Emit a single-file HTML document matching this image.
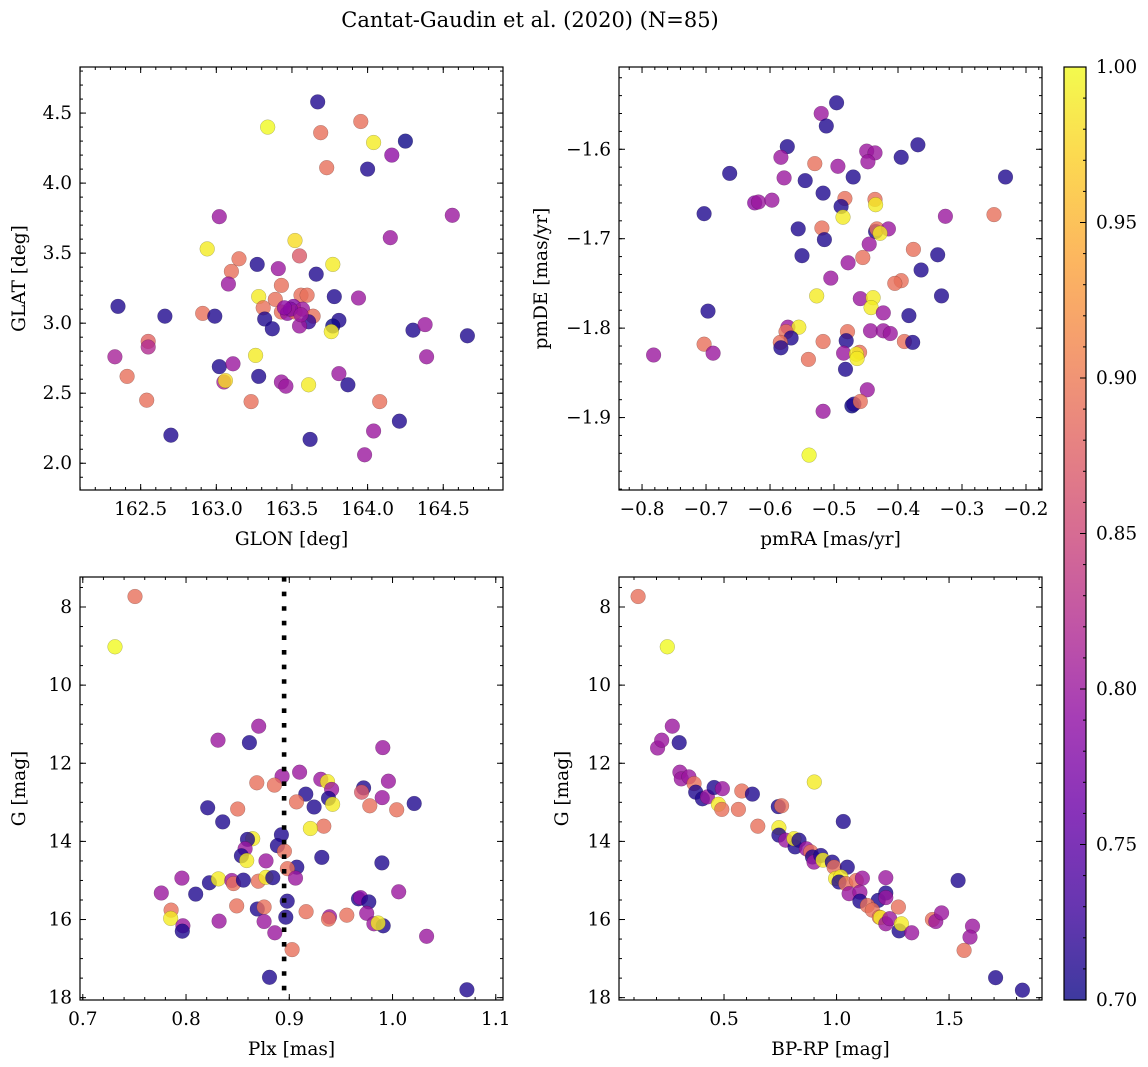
<!DOCTYPE html>
<html>
<head>
<meta charset="utf-8">
<style>
html,body{margin:0;padding:0;background:#fff;}
svg{display:block;font-family:"DejaVu Serif","Liberation Serif",serif;}
</style>
</head>
<body>
<svg id="fig" width="1148" height="1067" viewBox="0 0 1148 1067" xmlns="http://www.w3.org/2000/svg">
<rect width="1148" height="1067" fill="#fff"/>
<text x="530" y="27" font-size="21" text-anchor="middle">Cantat-Gaudin et al. (2020) (N=85)</text>
<defs>
<linearGradient id="cbgrad" x1="0" y1="1" x2="0" y2="0">
<stop offset="0" stop-color="#0d0887"/><stop offset="0.1" stop-color="#41049d"/><stop offset="0.2" stop-color="#6a00a8"/><stop offset="0.3" stop-color="#8f0da4"/><stop offset="0.4" stop-color="#b12a90"/><stop offset="0.5" stop-color="#cc4778"/><stop offset="0.6" stop-color="#e16462"/><stop offset="0.7" stop-color="#f2844b"/><stop offset="0.8" stop-color="#fca636"/><stop offset="0.9" stop-color="#fcce25"/><stop offset="1" stop-color="#f0f921"/>
</linearGradient>
</defs>
</svg>
<script>
// ---------- Panel 1: GLON / GLAT ----------
const glonVals=[163.67,163.34,163.69,163.955,164.04,164.25,164.16,163.73,164.00,163.02,164.56,164.15,163.52,162.94,163.55,163.15,163.27,163.77,163.41,163.10,163.66,163.08,163.43,163.28,163.39,163.56,163.60,163.78,163.94,162.35,163.31,163.51,163.43,163.47,163.52,163.57,163.64,162.66,162.91,162.99,163.32,163.61,163.55,163.81,163.37,163.77,163.76,164.30,164.38,164.66,162.55,162.55,162.33,164.39,163.26,163.02,163.11,162.41,163.28,163.05,163.06,163.43,163.46,163.61,163.81,163.87,162.54,163.23,164.08,164.21,164.04,162.70,163.62,163.98,163.49,163.56,163.45];
const glatVals=[4.58,4.40,4.36,4.44,4.29,4.30,4.20,4.11,4.10,3.76,3.77,3.61,3.59,3.53,3.48,3.46,3.42,3.42,3.39,3.37,3.35,3.28,3.27,3.19,3.17,3.20,3.20,3.19,3.18,3.12,3.11,3.12,3.08,3.07,3.08,3.10,3.05,3.05,3.07,3.05,3.03,3.01,2.98,3.02,2.96,2.98,2.94,2.95,2.99,2.91,2.87,2.83,2.76,2.76,2.77,2.69,2.71,2.62,2.62,2.58,2.59,2.58,2.55,2.56,2.64,2.56,2.45,2.44,2.44,2.30,2.23,2.20,2.17,2.06,3.10,3.06,3.11];
const probP1=[0.71,1.0,0.89,0.89,0.99,0.70,0.79,0.89,0.71,0.80,0.80,0.80,0.98,0.99,0.87,0.89,0.71,0.99,0.80,0.89,0.71,0.80,0.89,0.99,0.89,0.89,0.89,0.71,0.80,0.71,0.89,0.78,0.89,0.79,0.89,0.80,0.89,0.71,0.89,0.71,0.71,0.72,0.80,0.71,0.71,0.70,0.99,0.71,0.80,0.71,0.88,0.82,0.81,0.80,0.99,0.71,0.80,0.89,0.71,0.81,0.98,0.80,0.80,0.99,0.80,0.71,0.89,0.89,0.89,0.71,0.80,0.71,0.71,0.80,0.78,0.80,0.79];
// ---------- Panel 2: pmRA / pmDE ----------
const pmraVals=[-0.496,-0.520,-0.512,-0.573,-0.583,-0.369,-0.395,-0.449,-0.436,-0.447,-0.530,-0.494,-0.663,-0.578,-0.470,-0.545,-0.232,-0.517,-0.624,-0.618,-0.597,-0.483,-0.489,-0.436,-0.435,-0.703,-0.486,-0.326,-0.250,-0.556,-0.519,-0.515,-0.435,-0.433,-0.415,-0.428,-0.445,-0.550,-0.376,-0.338,-0.455,-0.478,-0.364,-0.505,-0.395,-0.405,-0.527,-0.332,-0.459,-0.439,-0.442,-0.423,-0.697,-0.383,-0.572,-0.555,-0.575,-0.567,-0.479,-0.443,-0.423,-0.412,-0.584,-0.583,-0.517,-0.481,-0.390,-0.377,-0.703,-0.689,-0.782,-0.485,-0.460,-0.465,-0.464,-0.540,-0.482,-0.448,-0.472,-0.469,-0.459,-0.517,-0.539];
const pmdeVals=[-1.548,-1.560,-1.574,-1.597,-1.609,-1.595,-1.609,-1.602,-1.604,-1.614,-1.616,-1.619,-1.627,-1.632,-1.631,-1.635,-1.631,-1.649,-1.660,-1.659,-1.657,-1.655,-1.664,-1.656,-1.662,-1.672,-1.676,-1.675,-1.673,-1.689,-1.688,-1.701,-1.692,-1.689,-1.689,-1.694,-1.706,-1.719,-1.712,-1.718,-1.721,-1.727,-1.735,-1.744,-1.747,-1.750,-1.764,-1.764,-1.767,-1.766,-1.777,-1.783,-1.781,-1.786,-1.799,-1.799,-1.804,-1.811,-1.804,-1.803,-1.803,-1.806,-1.816,-1.822,-1.815,-1.814,-1.815,-1.816,-1.818,-1.828,-1.830,-1.828,-1.827,-1.829,-1.834,-1.835,-1.846,-1.869,-1.887,-1.885,-1.882,-1.893,-1.942];
const probP2=[0.71,0.80,0.71,0.71,0.80,0.71,0.71,0.80,0.80,0.80,0.89,0.80,0.71,0.80,0.71,0.71,0.71,0.71,0.79,0.80,0.80,0.89,0.71,0.89,0.99,0.71,0.99,0.80,0.89,0.71,0.89,0.71,0.71,0.89,0.80,0.99,0.80,0.71,0.89,0.71,0.89,0.80,0.71,0.80,0.89,0.89,0.99,0.71,0.80,0.99,0.99,0.80,0.71,0.71,0.80,0.99,0.89,0.71,0.89,0.80,0.80,0.80,0.89,0.71,0.89,0.71,0.89,0.71,0.89,0.80,0.80,0.80,0.89,0.99,0.99,0.89,0.71,0.80,0.70,0.71,0.89,0.80,1.0];
// ---------- Panel 3: Plx / G ----------
const plxVals=[0.7506,0.7312,0.8704,0.831,0.8614,0.9906,0.893,0.910,0.8685,0.8856,0.9305,0.937,0.941,0.996,0.972,0.970,0.916,0.907,0.938,0.942,0.924,0.990,0.978,1.004,1.021,0.821,0.850,0.8355,0.9334,0.9205,0.8646,0.8595,0.8924,0.8885,0.8953,0.8572,0.8536,0.8588,0.8775,0.9315,0.9897,0.9073,0.8982,0.906,0.796,0.8226,0.8313,0.8443,0.846,0.8556,0.870,0.8775,0.884,0.776,0.8094,1.006,0.898,0.967,0.969,0.977,0.8491,0.869,0.8756,0.9163,0.939,0.938,0.9557,0.975,0.8966,0.7855,0.7851,0.832,0.8756,0.797,0.7964,0.886,0.982,0.991,0.986,1.033,0.9027,0.8808,1.072];
const gPlxVals=[7.73,9.02,11.05,11.41,11.47,11.60,12.33,12.23,12.50,12.56,12.41,12.47,12.67,12.46,12.63,12.74,12.79,12.99,12.90,13.05,13.12,12.88,13.09,13.19,13.03,13.14,13.17,13.50,13.61,13.67,13.93,13.95,13.83,14.11,14.25,14.19,14.37,14.49,14.50,14.41,14.55,14.66,14.70,14.94,14.94,15.06,14.96,15.00,15.08,14.99,15.02,14.92,14.93,15.32,15.35,15.29,15.53,15.47,15.44,15.55,15.65,15.73,15.68,15.80,15.93,15.99,15.89,15.84,15.94,15.76,15.97,16.04,16.05,16.16,16.30,16.34,16.11,16.16,16.09,16.43,16.77,17.48,17.80];
const probP3=[0.89,1.0,0.80,0.80,0.71,0.80,0.80,0.80,0.89,0.89,0.80,0.99,0.80,0.80,0.71,0.87,0.71,0.89,0.71,0.99,0.71,0.80,0.89,0.89,0.71,0.71,0.89,0.71,0.89,0.99,0.99,0.71,0.71,0.71,0.89,0.80,0.71,0.99,0.80,0.71,0.71,0.71,0.89,0.80,0.80,0.71,0.99,0.80,0.89,0.71,0.89,0.99,0.71,0.80,0.71,0.80,0.71,0.71,0.79,0.71,0.89,0.71,0.89,0.89,0.80,0.89,0.89,0.80,0.71,0.89,0.99,0.80,0.80,0.80,0.71,0.80,0.80,0.71,0.99,0.80,0.89,0.71,0.71];
// ---------- Panel 4: BP-RP / G ----------
const bprpVals=[0.118,0.248,0.270,0.205,0.223,0.301,0.304,0.310,0.344,0.367,0.374,0.404,0.426,0.456,0.493,0.475,0.490,0.579,0.626,0.564,0.650,0.741,0.756,0.744,0.744,0.774,0.816,0.811,0.833,0.866,0.885,0.893,0.900,0.930,0.940,0.981,0.989,1.048,0.901,1.030,0.996,1.019,1.011,1.041,1.088,1.115,1.056,1.104,1.104,1.185,1.219,1.219,1.219,1.137,1.159,1.19,1.196,1.219,1.236,1.278,1.275,1.288,1.334,1.540,1.426,1.441,1.467,1.604,1.593,1.567,1.707,1.826];
const gColVals=[7.73,9.02,11.05,11.61,11.41,11.47,12.23,12.40,12.35,12.52,12.74,12.91,12.86,12.62,12.65,13.05,13.18,12.71,12.79,13.18,13.61,13.11,13.09,13.65,13.84,13.97,14.14,13.93,13.97,14.19,14.27,14.40,14.53,14.36,14.48,14.53,14.66,14.66,12.48,13.49,14.95,14.91,15.04,15.08,15.00,14.94,15.34,15.30,15.53,15.51,14.93,15.32,15.44,15.64,15.76,15.94,15.95,16.11,15.98,16.29,15.68,16.11,16.34,15.00,16.00,16.05,15.83,16.17,16.45,16.79,17.49,17.81];
const probP4=[0.89,1.0,0.80,0.80,0.80,0.71,0.80,0.80,0.80,0.89,0.71,0.71,0.80,0.71,0.80,0.99,0.89,0.89,0.71,0.89,0.89,0.71,0.89,0.99,0.71,0.80,0.71,0.99,0.71,0.80,0.89,0.71,0.80,0.71,0.99,0.71,0.89,0.71,0.99,0.71,0.99,0.99,0.71,0.89,0.89,0.80,0.80,0.80,0.71,0.71,0.80,0.71,0.80,0.89,0.89,0.89,0.99,0.80,0.80,0.71,0.89,0.99,0.80,0.71,0.89,0.80,0.80,0.80,0.80,0.89,0.71,0.71];
const plxCut=0.895;
const cbTicks=[0.70,0.75,0.80,0.85,0.90,0.95,1.00];

const NS="http://www.w3.org/2000/svg";
const svg=document.getElementById('fig');
const stops=[[0,[13,8,135]],[0.1,[65,4,157]],[0.2,[106,0,168]],[0.3,[143,13,164]],[0.4,[177,42,144]],[0.5,[204,71,120]],[0.6,[225,100,98]],[0.7,[242,132,75]],[0.8,[252,166,54]],[0.9,[252,206,37]],[1,[240,249,33]]];
function plasma(v){
  let t=Math.max(0,Math.min(1,(v-0.7)/0.3));
  for(let i=0;i<stops.length-1;i++){
    const a=stops[i],b=stops[i+1];
    if(t<=b[0]){const f=(t-a[0])/(b[0]-a[0]);
      return 'rgb('+a[1].map((c,k)=>Math.round(c+(b[1][k]-c)*f)).join(',')+')';}
  }
  return 'rgb(240,249,33)';
}
function mk(tag,attrs,parent){const e=document.createElementNS(NS,tag);for(const k in attrs)e.setAttribute(k,attrs[k]);(parent||svg).appendChild(e);return e;}
function fmt(v,d){const s=Math.abs(v).toFixed(d);return (v<-1e-9?'\u2212':'')+s;}

const TICKFS=18.5, LABFS=18.5;
function panel(o){
  const g=mk('g',{});
  
  
  const [X,Y,W,H]=o.box;
  const sx=v=>X+(v-o.xr[0])/(o.xr[1]-o.xr[0])*W;
  const sy=o.inv?(v=>Y+(v-o.yr[0])/(o.yr[1]-o.yr[0])*H):(v=>Y+H-(v-o.yr[0])/(o.yr[1]-o.yr[0])*H);
  const clip='clip-'+o.name;
  const cp=mk('clipPath',{id:clip},g);mk('rect',{x:X,y:Y,width:W,height:H},cp);
  const pts=mk('g',{'clip-path':'url(#'+clip+')'},g);
  
  
  for(let i=0;i<o.xs.length;i++){
    const c=mk('circle',{cx:sx(o.xs[i]).toFixed(1),cy:sy(o.ys[i]).toFixed(1),r:7.4,fill:plasma(o.cs[i]),'fill-opacity':0.8,stroke:'rgba(0,0,0,0.28)','stroke-width':0.5},pts);
    
    
  }
  if(o.vline!==undefined){
    const l=mk('line',{x1:sx(o.vline),x2:sx(o.vline),y1:Y,y2:Y+H,stroke:'#000','stroke-width':4.6,'stroke-dasharray':'4.6 10'},g);
    
    
  }
  const tk=mk('g',{stroke:'#000','stroke-width':1},g);
  const eps=1e-9;
  for(let v=Math.ceil(o.xr[0]/o.xmin-eps)*o.xmin;v<=o.xr[1];v+=o.xmin){const x=sx(v);mk('line',{x1:x,x2:x,y1:Y+H,y2:Y+H-3},tk);mk('line',{x1:x,x2:x,y1:Y,y2:Y+3},tk);}
  for(let v=Math.ceil(o.yr[0]/o.ymin-eps)*o.ymin;v<=o.yr[1];v+=o.ymin){const y=sy(v);mk('line',{x1:X,x2:X+3,y1:y,y2:y},tk);mk('line',{x1:X+W,x2:X+W-3,y1:y,y2:y},tk);}
  o.xt.forEach(v=>{const x=sx(v);mk('line',{x1:x,x2:x,y1:Y+H,y2:Y+H-6},tk);mk('line',{x1:x,x2:x,y1:Y,y2:Y+6},tk);
    const t=mk('text',{x:x,y:Y+H+25,'font-size':TICKFS,'text-anchor':'middle'},g);t.textContent=fmt(v,o.xd);
    });
  o.yt.forEach(v=>{const y=sy(v);mk('line',{x1:X,x2:X+6,y1:y,y2:y},tk);mk('line',{x1:X+W,x2:X+W-6,y1:y,y2:y},tk);
    const t=mk('text',{x:X-8,y:y+6,'font-size':TICKFS,'text-anchor':'end'},g);t.textContent=fmt(v,o.yd);
    });
  mk('rect',{x:X,y:Y,width:W,height:H,fill:'none',stroke:'#000','stroke-width':1.2},g);
  const xl=mk('text',{x:X+W/2,y:Y+H+55,'font-size':LABFS,'text-anchor':'middle'},g);xl.textContent=o.xlab;
  
  const yl=mk('text',{x:0,y:0,'font-size':LABFS,'text-anchor':'middle',transform:'translate('+(X-o.ylabOff)+','+(Y+H/2)+') rotate(-90)'},g);yl.textContent=o.ylab;
  
}
function rng(a,b,s){const r=[];for(let v=a;v<=b+1e-9;v+=s)r.push(Math.round(v*1000)/1000);return r;}

panel({name:'panel-glon-glat',box:[80,67,423,423],xr:[162.099,164.895],yr:[1.809,4.829],xs:glonVals,ys:glatVals,cs:probP1,xt:rng(162.5,164.5,0.5),yt:rng(2,4.5,0.5),xmin:0.1,ymin:0.1,xd:1,yd:1,xlab:'GLON [deg]',ylab:'GLAT [deg]',ylabOff:55});
panel({name:'panel-pm',box:[619,67,423,423],xr:[-0.836,-0.175],yr:[-1.981,-1.508],xs:pmraVals,ys:pmdeVals,cs:probP2,xt:rng(-0.8,-0.2,0.1),yt:rng(-1.9,-1.6,0.1),xmin:0.02,ymin:0.02,xd:1,yd:1,xlab:'pmRA [mas/yr]',ylab:'pmDE [mas/yr]',ylabOff:72});
panel({name:'panel-plx-g',box:[80,577,423,423],xr:[0.6973,1.107],yr:[7.232,18.06],inv:true,xs:plxVals,ys:gPlxVals,cs:probP3,xt:rng(0.7,1.1,0.1),yt:rng(8,18,2),xmin:0.02,ymin:0.5,xd:1,yd:0,xlab:'Plx [mas]',ylab:'G [mag]',ylabOff:55,vline:plxCut});
panel({name:'panel-cmd',box:[619,577,423,423],xr:[0.0333,1.913],yr:[7.232,18.06],inv:true,xs:bprpVals,ys:gColVals,cs:probP4,xt:rng(0.5,1.5,0.5),yt:rng(8,18,2),xmin:0.1,ymin:0.5,xd:1,yd:0,xlab:'BP-RP [mag]',ylab:'G [mag]',ylabOff:51});

// Colorbar
const cb=mk('g',{});


const CX=1064,CY=67,CW=22,CH=933;
const cs=v=>CY+CH-(v-0.7)/0.3*CH;
mk('rect',{x:CX,y:CY,width:CW,height:CH,fill:'url(#cbgrad)','fill-opacity':0.8},cb);
for(let v=0.70;v<=1.0001;v+=0.01){const y=cs(v);mk('line',{x1:CX+CW,x2:CX+CW-3,y1:y,y2:y,stroke:'#000'},cb);}
cbTicks.forEach(v=>{const y=cs(v);mk('line',{x1:CX+CW,x2:CX+CW-6,y1:y,y2:y,stroke:'#000'},cb);
  const t=mk('text',{x:CX+CW+10,y:y+6,'font-size':TICKFS},cb);t.textContent=v.toFixed(2);
  });
mk('rect',{x:CX,y:CY,width:CW,height:CH,fill:'none',stroke:'#000','stroke-width':1.2},cb);
</script>
</body>
</html>
